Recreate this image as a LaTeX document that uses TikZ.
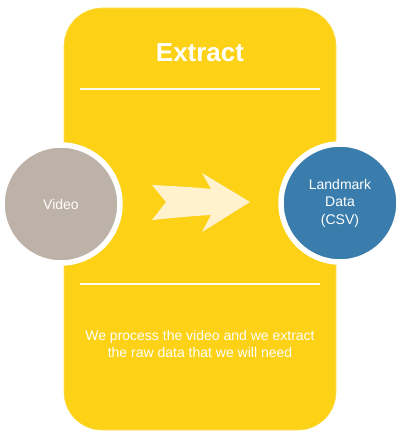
\documentclass[tikz,border=0pt]{standalone}
\usepackage{fontspec}
\setmainfont{Liberation Sans}
\definecolor{panelyellow}{HTML}{FCD116}
\definecolor{videogrey}{HTML}{BDB2A8}
\definecolor{csvblue}{HTML}{3A7DAC}
\definecolor{arrowcream}{HTML}{FFF2CC}
\begin{document}
\begin{tikzpicture}[x=1pt,y=-1pt,
  panel/.style={fill=panelyellow,draw=panelyellow!70!white,line width=0.6pt,rounded corners=38pt},
  sep/.style={draw=white!92!panelyellow,line width=1.6pt},
  ringcircle/.style={circle,draw=white,line width=5.5pt,minimum size=118pt,inner sep=0pt,text=white,font=\fontsize{14}{17.5}\selectfont,align=center},
  title/.style={text=white,font=\bfseries\fontsize{26}{30}\selectfont},
  body/.style={text=white,font=\fontsize{14}{17}\selectfont,align=center}]
\useasboundingbox (0,0) rectangle (401,438);
\path[panel] (64,8) rectangle (336,430);
\node[title] (title) at (200,53) {Extract};
\coordinate (s1a) at (80,89); \coordinate (s1b) at (320,89);
\coordinate (s2a) at (80,284); \coordinate (s2b) at (320,284);
\draw[sep] (s1a) -- (s1b);
\draw[sep] (s2a) -- (s2b);
\node[ringcircle,fill=videogrey] (video) at (61,204) {Video};
\node[ringcircle,fill=csvblue] (csv) at (340,203) {Landmark\\Data\\(CSV)};
\fill[arrowcream] (152,185) .. controls (172,186) and (192,187) .. (211,189)
  -- (202,173) -- (250,202) -- (202,232) -- (211,215)
  .. controls (192,216) and (172,218) .. (152,220) -- (166,202) -- cycle;
\node[body] (desc) at (200,344) {We process the video and we extract\\the raw data that we will need};
\end{tikzpicture}
\end{document}
